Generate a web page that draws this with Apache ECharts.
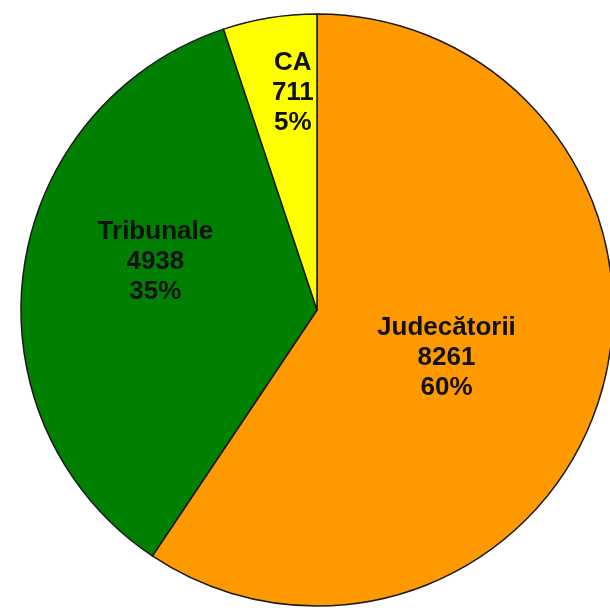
<!DOCTYPE html>
<html>
<head>
<meta charset="utf-8">
<script src="https://cdn.jsdelivr.net/npm/echarts@6/dist/echarts.min.js"></script>
<style>
html,body{margin:0;padding:0;background:#fff;}
#chart{width:610px;height:610px;}
</style>
</head>
<body>
<div id="chart"></div>
<script>
const categories = ['Judecătorii', 'Tribunale', 'CA'];
const values = [8261, 4938, 711];
const percentLabels = ['60%', '35%', '5%'];
const colors = ['#FF9900', '#008000', '#FFFF00'];

const labelShift = [[-15, 4], [-12, -28], [0, -68]];

const chart = echarts.init(document.getElementById('chart'), null, {renderer: 'canvas'});
chart.setOption({
  animation: false,
  backgroundColor: '#ffffff',
  series: [{
    type: 'pie',
    center: [317, 310],
    radius: [0, 296],
    startAngle: 90,
    clockwise: true,
    data: categories.map((c, i) => ({
      name: c,
      value: values[i],
      itemStyle: {color: colors[i]}
    })),
    itemStyle: {borderColor: '#1a1a1a', borderWidth: 1.5},
    label: {
      show: true,
      position: 'inside',
      formatter: p => p.name + '\n' + p.value + '\n' + percentLabels[p.dataIndex],
      fontFamily: 'Liberation Sans, Arial, sans-serif',
      fontWeight: 'bold',
      fontSize: 26,
      lineHeight: 30,
      color: '#111',
      align: 'center'
    },
    labelLine: {show: false},
    emphasis: {disabled: true},
    labelLayout: p => ({dx: labelShift[p.dataIndex][0], dy: labelShift[p.dataIndex][1]})
  }]
});
</script>
</body>
</html>
